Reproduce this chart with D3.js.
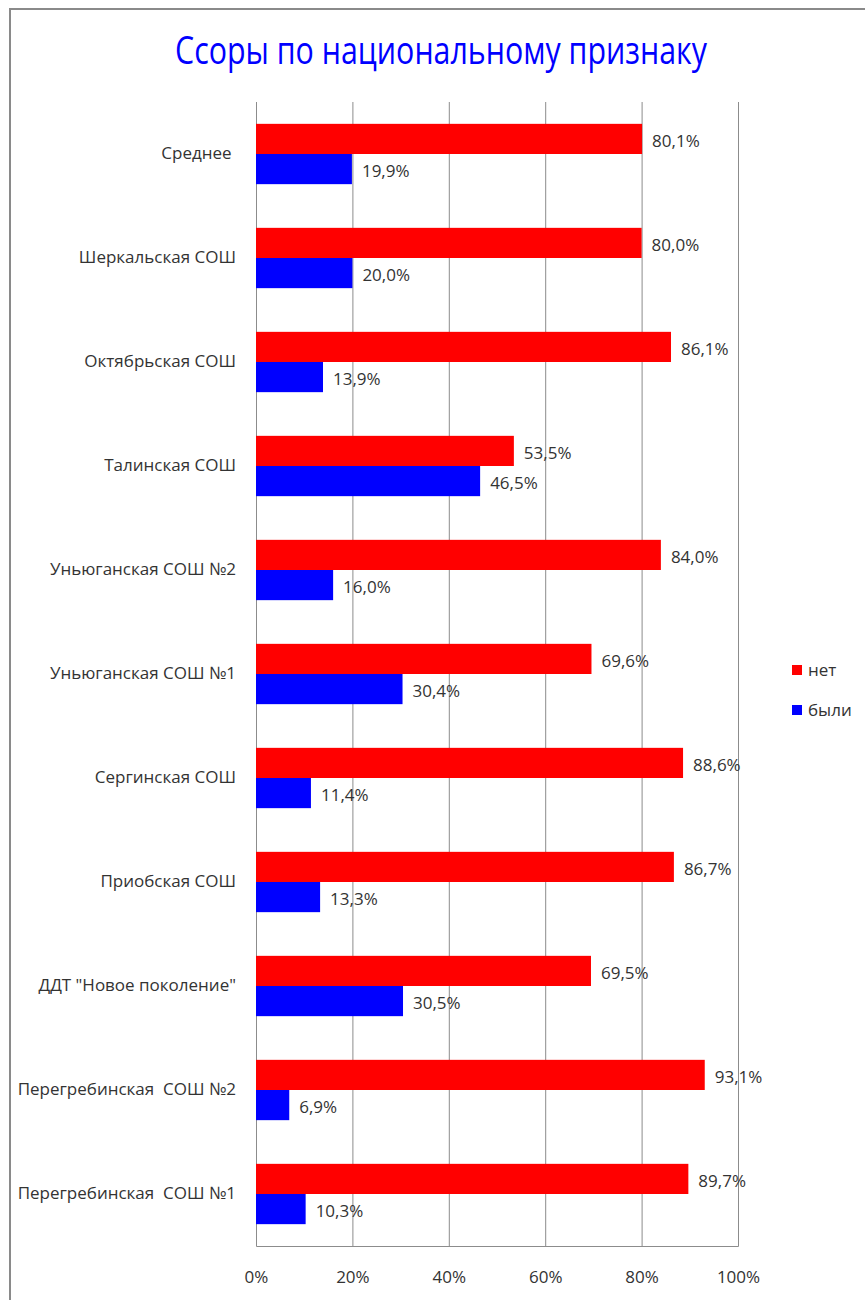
<!DOCTYPE html>
<html><head><meta charset="utf-8">
<script src="https://cdn.jsdelivr.net/npm/d3@7/dist/d3.min.js"></script>
<style>
body{margin:0;background:#fff;}
text{font-family:"Liberation Sans Narrow","Arial Narrow","Open Sans",sans-serif;}
</style></head>
<body><svg id="c" width="865" height="1300"></svg>
<script>
const title = "Ссоры по национальному признаку";
const categories = ["Среднее ","Шеркальская СОШ","Октябрьская СОШ","Талинская СОШ","Уньюганская СОШ №2","Уньюганская СОШ №1","Сергинская СОШ","Приобская СОШ","ДДТ \"Новое поколение\"","Перегребинская  СОШ №2","Перегребинская  СОШ №1"];
const seriesNames = ["нет","были"];
const seriesColors = ["#ff0000","#0000ff"];
const netValues = [80.1,80.0,86.1,53.5,84.0,69.6,88.6,86.7,69.5,93.1,89.7];
const byliValues = [19.9,20.0,13.9,46.5,16.0,30.4,11.4,13.3,30.5,6.9,10.3];
const xTicks = [0,20,40,60,80,100];

const svg = d3.select("#c");
const L=256,R=738,T=102,B=1246;
const x = d3.scaleLinear().domain([0,100]).range([L,R]);
const y = d3.scaleBand().domain(categories).range([T,B]).paddingInner(0.42).paddingOuter(0.21);
const ys = d3.scaleBand().domain(seriesNames).range([0,y.bandwidth()]);
const color = d3.scaleOrdinal().domain(seriesNames).range(seriesColors);
const fmt = v => d3.format(".1f")(v).replace(".",",")+"%";

// border
svg.append("rect").attr("x",10).attr("y",9).attr("width",900).attr("height",1400)
  .attr("fill","none").attr("stroke","#8a8a8a").attr("stroke-width",2);

// title
svg.append("text").attr("x",441).attr("y",64).attr("text-anchor","middle")
  .attr("font-size",38).attr("fill","#0000ff")
  .attr("textLength",532).attr("lengthAdjust","spacingAndGlyphs").text(title);

// gridlines
const grid = svg.append("g").attr("transform",`translate(0,${B})`)
  .call(d3.axisBottom(x).tickValues(xTicks).tickSize(-(B-T)).tickFormat(""));
grid.select(".domain").attr("stroke","#8c8c8c");
grid.selectAll(".tick line").attr("stroke","#8c8c8c");

// x tick labels
const xa = svg.append("g").attr("transform",`translate(0,${B})`)
  .call(d3.axisBottom(x).tickValues(xTicks).tickSize(0).tickPadding(25).tickFormat(d=>d+"%"));
xa.select(".domain").remove();
xa.selectAll("text").attr("font-size",17).attr("fill","#333").attr("font-family",null);

// data rows
const rows = categories.map((c,i)=>({cat:c, vals:[{s:"нет",v:netValues[i]},{s:"были",v:byliValues[i]}]}));
const g = svg.append("g").selectAll("g").data(rows).join("g")
  .attr("transform",d=>`translate(0,${y(d.cat)})`);
g.selectAll("rect").data(d=>d.vals).join("rect")
  .attr("x",x(0)).attr("y",d=>ys(d.s)).attr("width",d=>x(d.v)-x(0)).attr("height",ys.bandwidth())
  .attr("fill",d=>color(d.s));
g.selectAll("text.v").data(d=>d.vals).join("text").attr("class","v")
  .attr("x",d=>x(d.v)+10).attr("y",d=>ys(d.s)+ys.bandwidth()/2+2).attr("dy","0.35em")
  .attr("font-size",17).attr("fill","#333").text(d=>fmt(d.v));

// category labels
const ya = svg.append("g").attr("transform",`translate(${L},0)`)
  .call(d3.axisLeft(y).tickSize(0).tickPadding(20));
ya.select(".domain").remove();
ya.selectAll("text").attr("font-size",17).attr("fill","#333").attr("font-family",null)
  .style("white-space","pre");

// legend
const lg = svg.append("g").selectAll("g").data(seriesNames).join("g")
  .attr("transform",(d,i)=>`translate(792,${665+i*40})`);
lg.append("rect").attr("width",10).attr("height",10).attr("fill",d=>color(d));
lg.append("text").attr("x",16).attr("y",5).attr("dy","0.35em").attr("font-size",17).attr("fill","#333").text(d=>d);
</script></body></html>
